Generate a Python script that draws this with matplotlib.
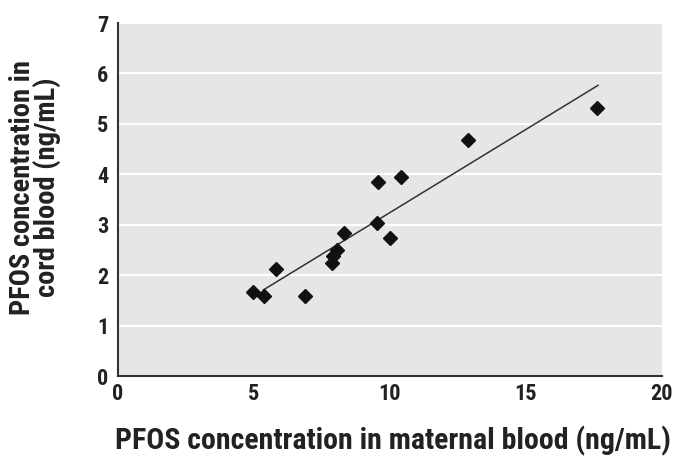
import numpy as np
import matplotlib.pyplot as plt
from matplotlib import font_manager

# *** data ***
maternal = [4.95, 5.38, 5.83, 6.88, 7.86, 7.92, 8.06, 8.31, 9.51, 9.57, 10.0, 10.40, 12.88, 17.63]
cord = [1.67, 1.59, 2.12, 1.59, 2.25, 2.38, 2.51, 2.83, 3.03, 3.85, 2.74, 3.94, 4.69, 5.32]
fit_range = [5.34, 17.66]
xticks = [0, 5, 10, 15, 20]
yticks = [0, 1, 2, 3, 4, 5, 6, 7]

# a narrow font looks closest to the original
names = {f.name for f in font_manager.fontManager.ttflist}
fam = 'DejaVu Sans'
for cand in ['Liberation Sans Narrow', 'Roboto Condensed', 'DejaVu Sans Condensed', 'Open Sans Condensed']:
    if cand in names:
        fam = cand
        break
plt.rcParams['font.family'] = [fam]

fig = plt.figure(figsize=(6.78, 4.61), dpi=100)
ax = fig.add_axes([0.174, 0.184, 0.802, 0.766])
ax.set_facecolor('#e6e6e6')

# regression line
coef = np.polyfit(maternal, cord, 1)
xs = np.array(fit_range)
ax.plot(xs, np.polyval(coef, xs), color='#333333', lw=1.1, zorder=2)

ax.plot(maternal, cord, 'D', color='#111111', ms=7, zorder=3)

ax.set_xlim(0, 20)
ax.set_ylim(0, 7)
ax.set_xticks(xticks)
ax.set_yticks(yticks)
ax.yaxis.grid(True, color='white', lw=1.5)
ax.set_axisbelow(True)
ax.tick_params(length=0, labelsize=16 if fam != 'DejaVu Sans' else 12, colors='#222222')
ax.tick_params(axis='y', pad=7)
ax.tick_params(axis='x', pad=5)
for lab in ax.get_xticklabels() + ax.get_yticklabels():
    lab.set_fontweight('bold')

for s in ['top', 'right']:
    ax.spines[s].set_visible(False)
for s in ['left', 'bottom']:
    ax.spines[s].set_color('#333333')
    ax.spines[s].set_linewidth(1.5)

xl = fig.text(0.58, 0.011, 'PFOS concentration in maternal blood (ng/mL)', fontsize=17,
              fontweight='bold', color='#222222', ha='center', va='bottom')
yl = fig.text(0.051, 0.594, 'PFOS concentration in\ncord blood (ng/mL)', fontsize=17,
              fontweight='bold', color='#222222', ha='center', va='center',
              rotation=90, linespacing=0.85)

# shrink the labels so they span the same width as in the original
fig.canvas.draw()
r = fig.canvas.get_renderer()
w = xl.get_window_extent(r).width
xl.set_fontsize(17 * 558 / w)
h = yl.get_window_extent(r).height
yl.set_fontsize(17 * 255 / h)

fig.savefig('out.png', dpi=100)
